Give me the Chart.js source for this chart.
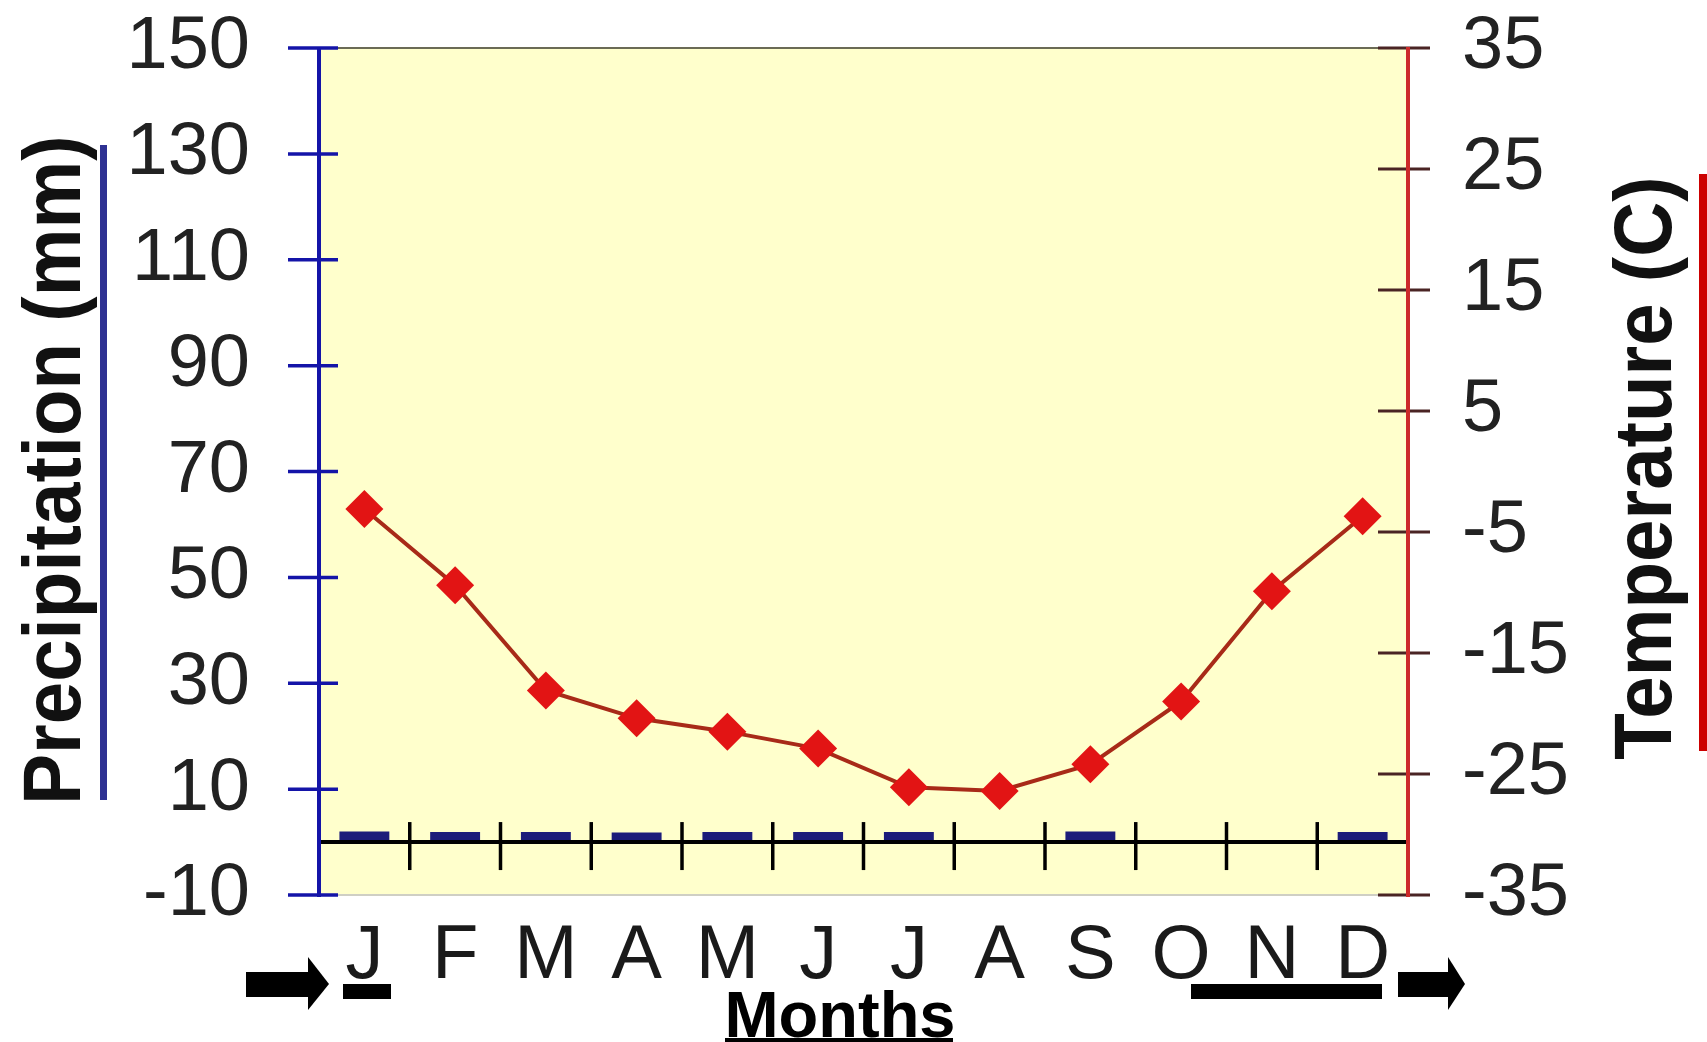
<!DOCTYPE html>
<html>
<head>
<meta charset="utf-8">
<script src="https://cdn.jsdelivr.net/npm/chart.js@4.4.1/dist/chart.umd.min.js"></script>
<style>
  html, body { margin: 0; padding: 0; background: #ffffff; }
  #wrap { position: relative; width: 1707px; height: 1042px; overflow: hidden; }
  #chart { position: absolute; left: 0; top: 0; }
  .vtitle { position: absolute; width: 0; height: 0; }
  .vtitle span {
    position: absolute; white-space: nowrap; line-height: 1;
    font-family: "Liberation Sans", Arial, sans-serif; font-weight: bold; font-size: 82px; color: #111;
    transform: translate(-50%, -50%) rotate(-90deg) scaleX(0.93);
  }
  .bar { position: absolute; }
  #months {
    position: absolute; left: 840px; top: 1035px; width: 0; height: 0;
  }
  #months span {
    position: absolute; white-space: nowrap; line-height: 1;
    font-family: "Liberation Sans", Arial, sans-serif; font-weight: bold; font-size: 65px; color: #000;
    transform: translate(-50%, -82%);
  }
</style>
</head>
<body>
<div id="wrap">
  <canvas id="chart"></canvas>

  <div class="vtitle" style="left:52px; top:470px;"><span>Precipitation (mm)</span></div>
  <div class="bar" style="left:100px; top:145px; width:7px; height:655px; background:#2e3192;"></div>

  <div class="vtitle" style="left:1643px; top:468px;"><span>Temperature (C)</span></div>
  <div class="bar" style="left:1699px; top:174px; width:8px; height:577px; background:#cc0000;"></div>

  <div id="months"><span>Months</span></div>
  <div class="bar" style="left:725px; top:1038px; width:228px; height:4px; background:#000;"></div>

  <svg width="1707" height="1042" style="position:absolute; left:0; top:0; pointer-events:none;">
    <rect x="246" y="972" width="63" height="25" fill="#000"/>
    <polygon points="308,957 329,984 308,1010" fill="#000"/>
    <rect x="343" y="984" width="48" height="15" fill="#000"/>
    <rect x="1191" y="984" width="191" height="15" fill="#000"/>
    <rect x="1398" y="972" width="51" height="25" fill="#000"/>
    <polygon points="1448,957 1465,984 1448,1010" fill="#000"/>
  </svg>
</div>

<script>
var months = ['J', 'F', 'M', 'A', 'M', 'J', 'J', 'A', 'S', 'O', 'N', 'D'];
var precipitation = [2, 1.9, 1.9, 1.8, 1.9, 1.9, 1.9, 0, 2, 0, 0, 1.9];
var temperature = [-3.1, -9.4, -18.1, -20.4, -21.5, -22.9, -26.1, -26.4, -24.2, -19.0, -9.9, -3.7];
var precipTicks = [-10, 10, 30, 50, 70, 90, 110, 130, 150];
var tempTicks = [-35, -25, -15, -5, 5, 15, 25, 35];

var FONT = '"Liberation Sans", Arial, sans-serif';

// plot fill, zero line with month separators, and the two coloured axes
var climateFrame = {
  id: 'climateFrame',
  beforeDatasetsDraw: function (chart) {
    var a = chart.chartArea, ctx = chart.ctx;
    ctx.save();
    ctx.fillStyle = '#ffffcc';
    ctx.fillRect(a.left, a.top, a.right - a.left, a.bottom - a.top);
    ctx.restore();
  },
  afterDatasetsDraw: function (chart) {
    var a = chart.chartArea, ctx = chart.ctx;
    var x = chart.scales.x, y = chart.scales.y, y1 = chart.scales.y1;
    ctx.save();

    // top and bottom edges
    ctx.lineWidth = 2;
    ctx.strokeStyle = '#6b6b55';
    ctx.beginPath(); ctx.moveTo(a.left, a.top); ctx.lineTo(a.right, a.top); ctx.stroke();
    ctx.strokeStyle = '#cfcfc4';
    ctx.beginPath(); ctx.moveTo(a.left, a.bottom); ctx.lineTo(a.right, a.bottom); ctx.stroke();

    // zero line and month separators
    var y0 = y.getPixelForValue(0);
    ctx.strokeStyle = '#000';
    ctx.lineWidth = 4;
    ctx.beginPath(); ctx.moveTo(a.left, y0); ctx.lineTo(a.right, y0); ctx.stroke();
    ctx.lineWidth = 3.5;
    for (var i = 0; i < months.length - 1; i++) {
      var px = (x.getPixelForValue(i) + x.getPixelForValue(i + 1)) / 2;
      ctx.beginPath(); ctx.moveTo(px, y0 - 20); ctx.lineTo(px, y0 + 28); ctx.stroke();
    }

    // left axis (blue)
    ctx.strokeStyle = '#1414a8';
    ctx.lineWidth = 4;
    ctx.beginPath(); ctx.moveTo(a.left, a.top - 1); ctx.lineTo(a.left, a.bottom + 2); ctx.stroke();
    ctx.lineWidth = 3.5;
    y.ticks.forEach(function (t) {
      var py = y.getPixelForValue(t.value);
      ctx.beginPath(); ctx.moveTo(a.left - 31, py); ctx.lineTo(a.left + 19, py); ctx.stroke();
    });

    // right axis (red)
    ctx.lineWidth = 3;
    ctx.strokeStyle = '#4a2424';
    y1.ticks.forEach(function (t) {
      var py = y1.getPixelForValue(t.value);
      ctx.beginPath(); ctx.moveTo(a.right - 30, py); ctx.lineTo(a.right + 22, py); ctx.stroke();
    });
    ctx.strokeStyle = '#cc2a2a';
    ctx.lineWidth = 4;
    ctx.beginPath(); ctx.moveTo(a.right, a.top - 1); ctx.lineTo(a.right, a.bottom + 2); ctx.stroke();

    ctx.restore();
  }
};

var ctx = document.getElementById('chart').getContext('2d');
new Chart(ctx, {
  type: 'bar',
  data: {
    labels: months,
    datasets: [
      {
        type: 'line',
        label: 'Temperature',
        data: temperature,
        yAxisID: 'y1',
        order: 0,
        borderColor: '#a82a18',
        borderWidth: 4,
        tension: 0,
        pointStyle: 'rectRot',
        pointRadius: 19,
        pointBackgroundColor: '#e21414',
        pointBorderWidth: 0,
      },
      {
        type: 'bar',
        label: 'Precipitation',
        data: precipitation,
        yAxisID: 'y',
        order: 1,
        backgroundColor: '#1c1c7a',
        barPercentage: 0.55,
        categoryPercentage: 1.0,
      },
    ],
  },
  options: {
    responsive: true,
    maintainAspectRatio: false,
    animation: false,
    layout: { padding: { top: 48, bottom: 0, left: 0, right: 0 } },
    plugins: { legend: { display: false }, tooltip: { enabled: false } },
    scales: {
      x: {
        position: 'bottom',
        grid: { display: false, drawTicks: false },
        border: { display: false },
        ticks: { color: '#1a1a1a', padding: 16, font: { family: FONT, size: 76, lineHeight: 1.2 }, maxRotation: 0, autoSkip: false },
        afterFit: function (s) { s.height = 147; },
      },
      y: {
        position: 'left',
        min: -10,
        max: 150,
        afterBuildTicks: function (s) { s.ticks = precipTicks.map(function (v) { return { value: v }; }); },
        grid: { display: true, color: 'transparent', drawOnChartArea: false, drawTicks: true, tickLength: 69 },
        border: { display: false },
        ticks: { color: '#222', padding: 0, font: { family: FONT, size: 74, lineHeight: 1 } },
        afterFit: function (s) { s.width = 319; },
      },
      y1: {
        position: 'right',
        min: -35,
        max: 35,
        afterBuildTicks: function (s) { s.ticks = tempTicks.map(function (v) { return { value: v }; }); },
        grid: { display: true, color: 'transparent', drawOnChartArea: false, drawTicks: true, tickLength: 54 },
        border: { display: false },
        ticks: { color: '#222', padding: 0, font: { family: FONT, size: 74, lineHeight: 1 } },
        afterFit: function (s) { s.width = 299; },
      },
    },
  },
  plugins: [climateFrame],
});
</script>
</body>
</html>
